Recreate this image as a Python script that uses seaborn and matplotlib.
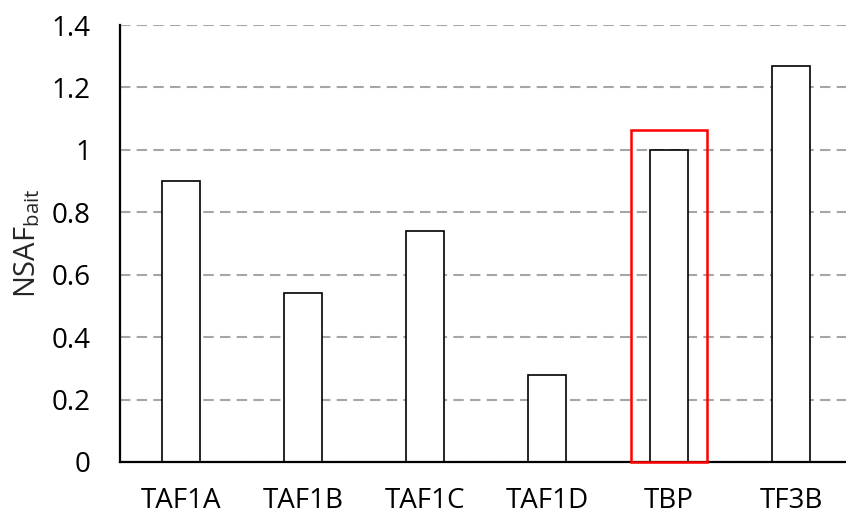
import pandas as pd
import matplotlib.pyplot as plt
import matplotlib.patches as mpatches
import seaborn as sns

# dati
proteine = ['TAF1A', 'TAF1B', 'TAF1C', 'TAF1D', 'TBP', 'TF3B']
nsaf = [0.90, 0.54, 0.74, 0.28, 1.00, 1.27]
evidenziata = 'TBP'
yticks = [0, 0.2, 0.4, 0.6, 0.8, 1, 1.2, 1.4]
ytick_labels = ['0', '0.2', '0.4', '0.6', '0.8', '1', '1.2', '1.4']

df = pd.DataFrame({'proteina': proteine, 'nsaf': nsaf})

sns.set_style('white')
plt.rcParams['font.family'] = ['Open Sans', 'DejaVu Sans']
plt.rcParams['mathtext.fontset'] = 'custom'
plt.rcParams['mathtext.rm'] = 'Open Sans'

fig = plt.figure(figsize=(8.46, 5.17), dpi=100)
ax = fig.add_axes([120 / 846, 55 / 517, 732 / 846, 437 / 517])

sns.barplot(data=df, x='proteina', y='nsaf', color='white', edgecolor='black',
            linewidth=1.2, width=0.31, ax=ax, zorder=3)

ax.set_xlim(-0.5, len(proteine) - 0.5)
ax.set_ylim(0, 1.4)
ax.set_yticks(yticks)
ax.set_yticklabels(ytick_labels)
ax.yaxis.grid(True, color='#a6a6a6', linestyle=(0, (5, 3)), linewidth=1.5, zorder=0)
ax.xaxis.grid(False)
ax.set_axisbelow(True)

for s in ['top', 'right']:
    ax.spines[s].set_visible(False)
for s in ['left', 'bottom']:
    ax.spines[s].set_color('black')
    ax.spines[s].set_linewidth(1.6)
    ax.spines[s].set_zorder(4)

ax.tick_params(axis='both', length=0, labelsize=20, colors='black')
ax.tick_params(axis='y', pad=21)
ax.tick_params(axis='x', pad=18)
ax.set_xlabel('')
ax.set_ylabel(r'$\mathrm{NSAF}_{\mathrm{bait}}$', fontsize=21, labelpad=7)

# riquadro rosso attorno a TBP
i = proteine.index(evidenziata)
ax.add_patch(mpatches.Rectangle((i - 0.31, 0), 0.62, 1.065, fill=False,
                                edgecolor='#ff0000', linewidth=1.8, zorder=5,
                                clip_on=False))

plt.savefig('out.png', dpi=100)
